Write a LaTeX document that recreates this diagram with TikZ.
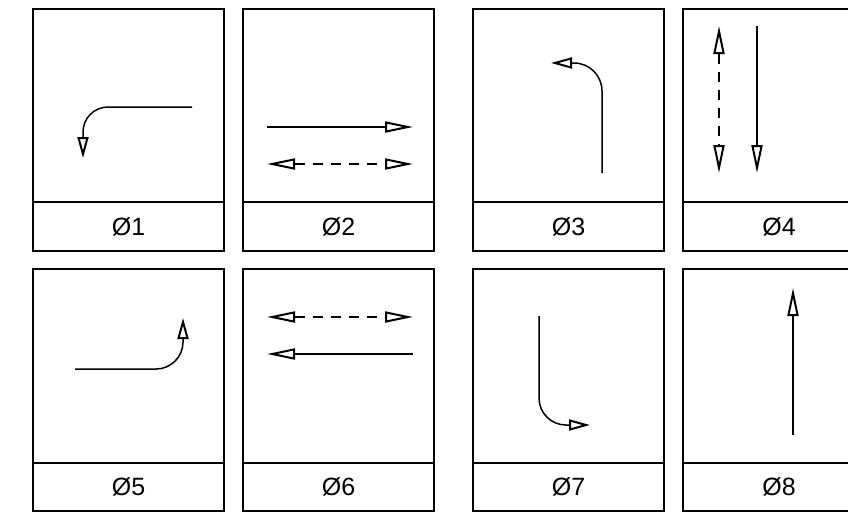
\documentclass[tikz,border=0pt]{standalone}
\usepackage{fontspec}
\setmainfont{Liberation Sans}
\usetikzlibrary{arrows.meta}
\tikzset{
  panel/.style={line width=2pt},
  arr/.style={line width=1.5pt},
  dashline/.style={dash pattern=on 10pt off 8pt},
  hl/.tip={Triangle[open,length=28pt,width=11pt,line width=2pt]},
  hs/.tip={Triangle[open,length=21pt,width=11pt,line width=2pt]},
  lab/.style={font=\fontsize{25}{28}\selectfont, inner sep=0pt}
}
\begin{document}
\begin{tikzpicture}[x=1pt,y=-1pt]
\useasboundingbox (0,0) rectangle (848,515);
\clip (0,0) rectangle (848,515);
% panels
\foreach \xa/\xb in {33/224, 243/434, 473/664, 683/874}{
  \draw[panel] (\xa,9) rectangle (\xb,251);
  \draw[panel] (\xa,202) -- (\xb,202);
  \draw[panel] (\xa,269) rectangle (\xb,511);
  \draw[panel] (\xa,463) -- (\xb,463);
}
% labels
\node[lab] (l1) at (128.5,227) {Ø1};
\node[lab] (l2) at (338.5,227) {Ø2};
\node[lab] (l3) at (568.5,227) {Ø3};
\node[lab] (l4) at (779,227) {Ø4};
\node[lab] (l5) at (128.5,487) {Ø5};
\node[lab] (l6) at (338.5,487) {Ø6};
\node[lab] (l7) at (568.5,487) {Ø7};
\node[lab] (l8) at (779,487) {Ø8};
% panel 1
\draw[arr, rounded corners=25pt, -{hs}] (192,107) -- (83,107) -- (83,158);
% panel 2
\draw[arr, -{hl}] (267,127) -- (413,127);
\draw[arr, dashline, {hl}-{hl}] (267,164) -- (413,164);
% panel 3
\draw[arr, rounded corners=28pt, -{hs}] (602,173) -- (602,63) -- (551,63);
% panel 4
\draw[arr, dashline, {hl}-{hl}] (719,26) -- (719,173);
\draw[arr, -{hl}] (757,26) -- (757,173);
% panel 5
\draw[arr, rounded corners=27pt, -{hs}] (75,369) -- (183,369) -- (183,318);
% panel 6
\draw[arr, dashline, {hl}-{hl}] (267,317) -- (413,317);
\draw[arr, -{hl}] (413,354) -- (267,354);
% panel 7
\draw[arr, rounded corners=27pt, -{hs}] (539,316) -- (539,425) -- (590,425);
% panel 8
\draw[arr, -{hl}] (793,435) -- (793,288);
\end{tikzpicture}
\end{document}
